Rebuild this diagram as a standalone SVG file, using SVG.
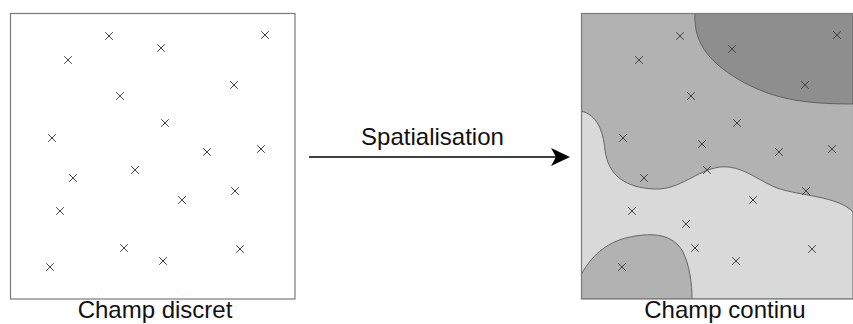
<svg xmlns="http://www.w3.org/2000/svg" width="853" height="324" viewBox="0 0 853 324">
<style>
.frame{fill:none;stroke:#7a7a7a;stroke-width:1.2}
.x{stroke:#444;stroke-width:1;fill:none}
.zone{stroke:#5a5a5a;stroke-width:0.9}
.lbl{font-family:"Liberation Sans",Arial,sans-serif;font-size:24px;fill:#111;text-anchor:middle}
</style>
<defs>
<path id="xm" class="x" d="M-3.8,-3.8 L3.8,3.8 M-3.8,3.8 L3.8,-3.8"/>
<clipPath id="rc"><rect x="581.5" y="13.5" width="272" height="285.5"/></clipPath>
</defs>
<rect width="853" height="324" fill="#fff"/>

<g id="champ-discret">
<rect class="frame" x="10.5" y="13.5" width="284.5" height="285.5" fill="#fff"/>
<use href="#xm" x="109" y="36"/>
<use href="#xm" x="265" y="35"/>
<use href="#xm" x="161" y="48"/>
<use href="#xm" x="68" y="60"/>
<use href="#xm" x="234" y="85"/>
<use href="#xm" x="120" y="96"/>
<use href="#xm" x="165" y="123"/>
<use href="#xm" x="52" y="138"/>
<use href="#xm" x="207" y="152"/>
<use href="#xm" x="261" y="149"/>
<use href="#xm" x="135" y="170"/>
<use href="#xm" x="73" y="178"/>
<use href="#xm" x="182" y="200"/>
<use href="#xm" x="235" y="191"/>
<use href="#xm" x="60" y="211"/>
<use href="#xm" x="124" y="248"/>
<use href="#xm" x="163" y="261"/>
<use href="#xm" x="240" y="249"/>
<use href="#xm" x="50" y="267"/>
<text class="lbl" x="155" y="318">Champ discret</text>
</g>

<g id="champ-continu">
<g clip-path="url(#rc)">
<rect x="581.5" y="13.5" width="272" height="285.5" fill="#b2b2b2"/>
<path class="zone" fill="#8e8e8e" d="M695,13 C693,46 713,65 743,82 C773,98 800,104 853,104 L853,13 Z"/>
<path class="zone" fill="#d9d9d9" d="M581,111 C597,115 603,130 605,150 C608,175 625,188 655,189 C680,190 697,170 720,167 C742,165 757,180 777,188 C800,196 838,196 853,212 L853,299 L581,299 Z"/>
<path class="zone" fill="#b2b2b2" d="M581,275 C590,258 605,242 630,237 C655,232 672,235 682,250 C690,265 692,285 692,299 L581,299 Z"/>
</g>
<rect class="frame" x="581.5" y="13.5" width="272" height="285.5"/>
<use href="#xm" x="680" y="36"/>
<use href="#xm" x="837" y="35"/>
<use href="#xm" x="732" y="49"/>
<use href="#xm" x="639" y="60"/>
<use href="#xm" x="805" y="85"/>
<use href="#xm" x="691" y="96"/>
<use href="#xm" x="737" y="123"/>
<use href="#xm" x="623" y="138"/>
<use href="#xm" x="702" y="144"/>
<use href="#xm" x="779" y="152"/>
<use href="#xm" x="832" y="149"/>
<use href="#xm" x="707" y="170"/>
<use href="#xm" x="644" y="178"/>
<use href="#xm" x="753" y="200"/>
<use href="#xm" x="806" y="191"/>
<use href="#xm" x="632" y="211"/>
<use href="#xm" x="686" y="224"/>
<use href="#xm" x="695" y="248"/>
<use href="#xm" x="736" y="261"/>
<use href="#xm" x="812" y="249"/>
<use href="#xm" x="622" y="267"/>
<text class="lbl" x="725" y="318">Champ continu</text>
</g>

<g id="connectors">
<line x1="309" y1="157" x2="557" y2="157" stroke="#000" stroke-width="1.7"/>
<path d="M570,157 L551,148 L556,157 L551,166 Z" fill="#000"/>
<text class="lbl" x="432.5" y="145">Spatialisation</text>
</g>
</svg>
